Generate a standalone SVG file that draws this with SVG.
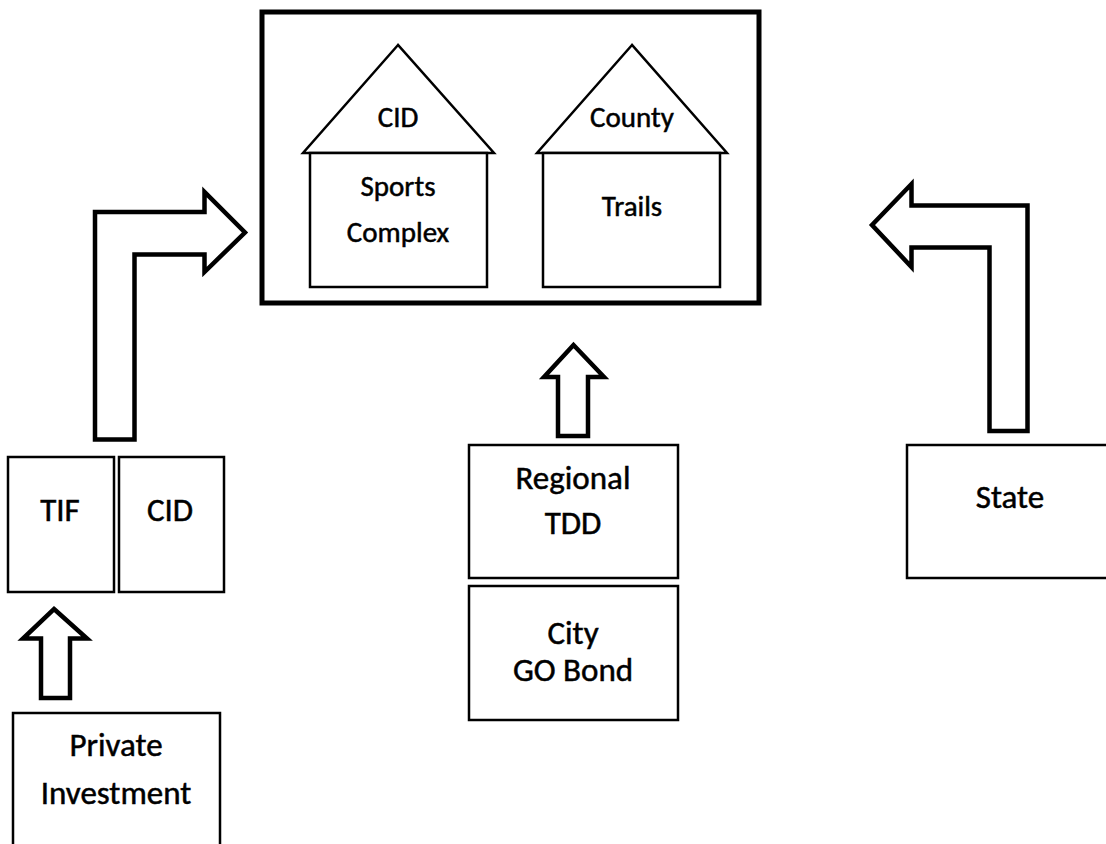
<svg xmlns="http://www.w3.org/2000/svg" width="1106" height="844" viewBox="0 0 1106 844">
<style>
  .box { fill: #fff; stroke: #000; stroke-width: 2.5; }
  .frame { fill: #fff; stroke: #000; stroke-width: 5; }
  .arrow { fill: #fff; stroke: #000; stroke-width: 4.5; stroke-linejoin: miter; }
  .roof { fill: #fff; stroke: #000; stroke-width: 2.5; stroke-linejoin: miter; }
  text { font-family: Carlito, Lato, "Open Sans", sans-serif; font-size: 33px; fill: #000; stroke: #000; stroke-width: 0.5; text-anchor: middle; }
  .house text { font-size: 29px; }
</style>
<rect width="1106" height="844" fill="#fff"/>
<g id="connectors">
  <polygon class="arrow" points="95,439.5 95,212 204.5,212 204.5,192 245,232.5 204.5,272 204.5,254.5 134.5,254.5 134.5,439.5"/>
  <polygon class="arrow" points="1027.5,431 1027.5,205.5 911.5,205.5 911.5,184 872,225 911.5,267 911.5,247.5 989.5,247.5 989.5,431"/>
  <polygon class="arrow" points="573.5,345 604,377 588,377 588,436 558,436 558,377 544,377"/>
  <polygon class="arrow" points="54,609 87,638.5 70,638.5 70,698 41,698 41,638.5 23,638.5"/>
</g>
<g id="main-frame">
  <rect class="frame" x="262" y="12" width="497" height="291"/>
</g>
<g id="house-cid" class="house">
  <polygon class="roof" points="398,45 303,153 494,153"/>
  <rect class="box" x="310" y="153" width="177" height="134"/>
  <text x="398" y="127">CID</text>
  <text x="398" y="196">Sports</text>
  <text x="398" y="242">Complex</text>
</g>
<g id="house-county" class="house">
  <polygon class="roof" points="632,45 537,153 727,153"/>
  <rect class="box" x="543" y="153" width="177" height="134"/>
  <text x="632" y="127">County</text>
  <text x="632" y="216">Trails</text>
</g>
<g id="tif">
  <rect class="box" x="8" y="457" width="106" height="135"/>
  <text x="60" y="521">TIF</text>
</g>
<g id="cid">
  <rect class="box" x="119" y="457" width="105" height="135"/>
  <text x="170" y="521">CID</text>
</g>
<g id="private-investment">
  <rect class="box" x="13" y="713" width="207" height="150"/>
  <text x="116" y="756">Private</text>
  <text x="116" y="804">Investment</text>
</g>
<g id="regional-tdd">
  <rect class="box" x="469" y="445" width="209" height="133"/>
  <text x="573" y="489">Regional</text>
  <text x="573" y="534">TDD</text>
</g>
<g id="city-go-bond">
  <rect class="box" x="469" y="586" width="209" height="134"/>
  <text x="573" y="644">City</text>
  <text x="573" y="681">GO Bond</text>
</g>
<g id="state">
  <rect class="box" x="907" y="445" width="220" height="133"/>
  <text x="1010" y="508">State</text>
</g>
</svg>
